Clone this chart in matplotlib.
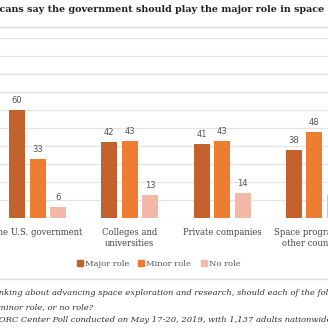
import matplotlib
matplotlib.use("Agg")
import matplotlib.pyplot as plt
import numpy as np

categories = ["The U.S. government", "Colleges and\nuniversities", "Private companies", "Space programs in\nother countries"]
series_names = ["Major role", "Minor role", "No role"]
major = [60, 42, 41, 38]
minor = [33, 43, 43, 48]
no_role = [6, 13, 14, 13]
colors = ["#C4622D", "#ED7D31", "#F4B9A6"]

title = "Most Americans say the government should play the major role in space exploration"
title_prefix = "Most Ameri"
notes = [
    ("Question: When thinking about advancing space exploration and research, should each of the following play a major role, a", "Question: When thi"),
    ("minor role, or no role?", ""),
    ("Source: AP-NORC Center Poll conducted on May 17-20, 2019, with 1,137 adults nationwide", "Source: AP-N"),
]

W = H = 328
fig = plt.figure(figsize=(W / 100, H / 100), dpi=100)
fig.patch.set_facecolor("white")

def fx(p):
    return p / W

def fy(p):
    return 1 - p / H

# axes: 0 at y=218px, 100 at y=38px, group spacing ~92.3px starting at 37.5px
base_px, top_px = 218, 38
gs = 92.3
c0 = 37.5
ax = fig.add_axes([0, fy(base_px), 1, (base_px - top_px) / H])
ax.set_xlim(-c0 / gs, (W - c0) / gs)
ax.set_ylim(0, 100)
ax.set_facecolor("none")
for s in ax.spines.values():
    s.set_visible(False)
ax.set_yticks(np.arange(0, 101, 10))
ax.yaxis.grid(True, color="#E3E3E3", linewidth=0.9)
ax.set_axisbelow(True)
ax.tick_params(length=0, labelleft=False, labelbottom=False)
ax.set_xticks([])

x = np.arange(len(categories))
bw = 16 / gs
off = 20.5 / gs
for i, (vals, col) in enumerate(zip([major, minor, no_role], colors)):
    xs = x + (i - 1) * off
    ax.bar(xs, vals, width=bw, color=col, zorder=3)
    for xi, v in zip(xs, vals):
        ax.text(xi, v + 2.8, f"{v}", ha="center", va="bottom", fontsize=6,
                color="#555555", family="DejaVu Sans")

# category labels
for xi, lab in zip(x, categories):
    ax.text(xi, -5.6, lab, ha="center", va="top", fontsize=6.15, color="#444444",
            family="DejaVu Serif", linespacing=1.3, clip_on=False)

renderer = fig.canvas.get_renderer()

def width_px(s, **kw):
    if not s:
        return 0.0
    t = fig.text(0, 0, s, **kw)
    bb = t.get_window_extent(renderer=renderer)
    t.remove()
    return bb.width

# title
tkw = dict(fontsize=6.9, fontweight="bold", family="DejaVu Serif", color="#222222")
wpre = width_px(title_prefix, **tkw)
fig.text(fx(-wpre - 0.5), fy(10), title, ha="left", va="center", **tkw)

# separator lines
fig.add_artist(plt.Line2D([0, 1], [fy(26.5), fy(26.5)], color="#DDDDDD", linewidth=1.0))
fig.add_artist(plt.Line2D([0, 1], [fy(279), fy(279)], color="#E0E0E0", linewidth=1.0))

# legend
lkw = dict(fontsize=6.0, family="DejaVu Serif", color="#555555")
leg_items = [(77, "Major role"), (138, "Minor role"), (201, "No role")]
for (px, name), col in zip(leg_items, colors):
    fig.patches.append(plt.Rectangle((fx(px), fy(266)), 6 / W, 6 / H, color=col,
                                     transform=fig.transFigure, figure=fig))
    fig.text(fx(px + 8), fy(263.5), name, ha="left", va="center", **lkw)

# notes
nkw = dict(fontsize=6.05, family="DejaVu Serif", style="italic", color="#333333")
ys = [293, 307, 320]
for (txt, pre), yy in zip(notes, ys):
    wp = width_px(pre, **nkw)
    fig.text(fx(-wp - 1.5), fy(yy), txt, ha="left", va="center", **nkw)

fig.savefig("out.png", dpi=100, facecolor="white")
